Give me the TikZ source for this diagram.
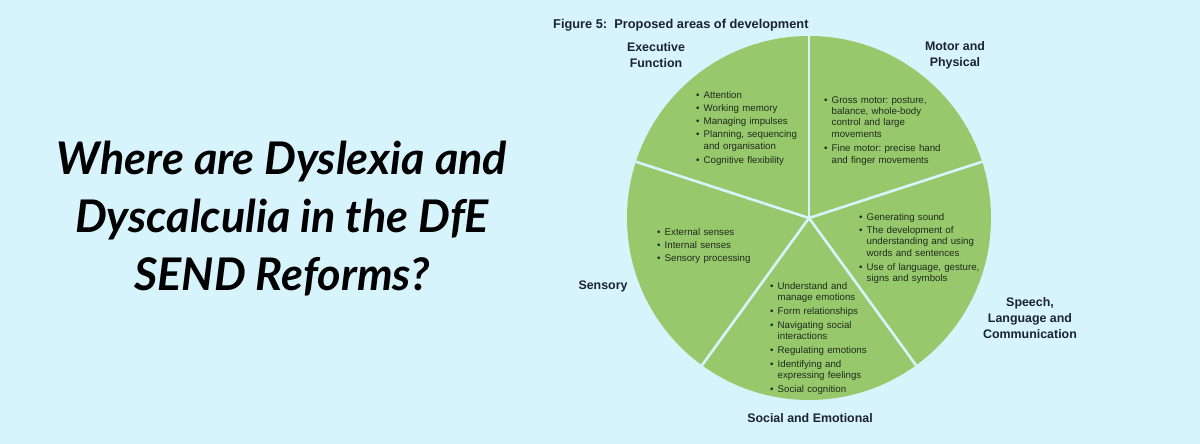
\documentclass[tikz,border=0pt]{standalone}
\usepackage{fontspec}
\setmainfont{Liberation Sans}
\newfontfamily\headfont{Lato}
\usepackage{xcolor}
\usetikzlibrary{positioning,calc}
\definecolor{sky}{HTML}{D7F4FC}
\definecolor{leaf}{HTML}{97C96C}
\definecolor{ink}{HTML}{1F2A1C}
\definecolor{navy}{HTML}{1B2230}
\frenchspacing
\newcommand{\litem}[1]{\par\noindent\makebox[7.5pt][l]{\textbullet}%
  \begin{tabular}[t]{@{}l@{}}#1\end{tabular}\par\vspace{1.9pt}}
\tikzset{
  sector/.style={fill=leaf},
  divider/.style={draw=sky,line width=2.6pt},
  points/.style={
    anchor=north west,inner sep=0pt,text width=160pt,align=left,
    text=ink,font=\fontsize{9.7}{11.4}\selectfont
  },
  area/.style={
    inner sep=0pt,align=center,text=navy,
    font=\bfseries\fontsize{12.4}{15.6}\selectfont
  },
  headline/.style={
    inner sep=0pt,align=center,text=black,
    font=\headfont\bfseries\itshape\fontsize{45}{58}\selectfont
  }
}
\begin{document}
\begin{tikzpicture}[x=1pt,y=1pt]
\fill[sky] (0,0) rectangle (1200,-444);
\useasboundingbox (0,0) rectangle (1200,-444);

\node[headline] (question) at (282,-219)
{Where are Dyslexia and\\
Dyscalculia in the DfE\\
SEND Reforms?};

\node[anchor=west,inner sep=0pt,text=navy,font=\bfseries\fontsize{12.8}{14}\selectfont]
  (caption) at (553,-25) {Figure 5:\ \ Proposed areas of development};

% the pie
\coordinate (hub) at (809,-218);
\fill[sector] (hub) circle (182pt);
\foreach \a in {90,18,-54,-126,162}
  \draw[divider] (hub) -- ++(\a:184pt);

% area names
\node[area] (executive) at (656,-55) {Executive\\Function};
\node[area] (motor) at (955,-55) {Motor and\\Physical};
\node[area] (sensory) at (603,-286) {Sensory};
\node[area] (speech) at (1030,-318) {Speech,\\Language and\\Communication};
\node[area] (social) at (810,-418) {Social and Emotional};

% what each area covers
\node[points] (executivelist) at (696,-86.5)
{\litem{Attention}
 \litem{Working memory}
 \litem{Managing impulses}
 \litem{Planning, sequencing\\and organisation}
 \litem{Cognitive flexibility}};

\node[points] (motorlist) at (824,-91.5)
{\litem{Gross motor: posture,\\balance, whole-body\\control and large\\movements}
 \litem{Fine motor: precise hand\\and finger movements}};

\node[points] (sensorylist) at (657,-223.5)
{\litem{External senses}
 \litem{Internal senses}
 \litem{Sensory processing}};

\node[points] (speechlist) at (859,-208.5)
{\litem{Generating sound}
 \litem{The development of\\understanding and using\\words and sentences}
 \litem{Use of language, gesture,\\signs and symbols}};

\node[points] (sociallist) at (770,-277.5)
{\litem{Understand and\\manage emotions}
 \litem{Form relationships}
 \litem{Navigating social\\interactions}
 \litem{Regulating emotions}
 \litem{Identifying and\\expressing feelings}
 \litem{Social cognition}};
\end{tikzpicture}
\end{document}
